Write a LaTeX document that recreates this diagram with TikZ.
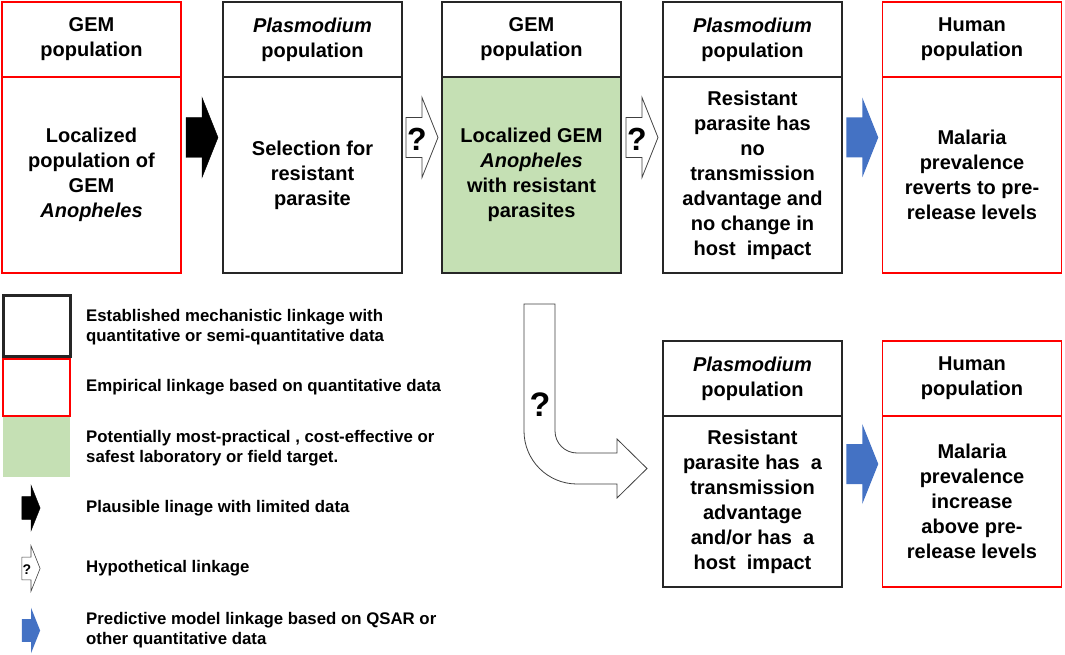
\documentclass[tikz,border=0pt]{standalone}
\usepackage{fontspec}
\setmainfont{Liberation Sans}
\usetikzlibrary{calc}
\definecolor{gemgreen}{HTML}{C5E0B4}
\definecolor{arrblue}{HTML}{4472C4}
\definecolor{boxred}{HTML}{FF0000}
\definecolor{boxblk}{HTML}{262626}
\tikzset{
  barrow/.pic={\path[pic actions] (-16,-20) -- (0,-20) -- (0,-40) -- (16,0) -- (0,40) -- (0,20) -- (-16,20) -- cycle;},
  frame/.style={minimum width=179pt,minimum height=#1,inner sep=0pt,outer sep=0pt},
  boxtext/.style={font=\fontsize{20}{25}\selectfont\bfseries,align=center,text=black},
  hdr/.style={boxtext,minimum width=179pt,minimum height=75pt,inner sep=0pt,outer sep=0pt,anchor=north},
  bod/.style={boxtext,minimum width=179pt,minimum height=#1,inner sep=0pt,outer sep=0pt,anchor=south},
  redline/.style={draw=boxred,line width=1.5pt},
  blkline/.style={draw=boxblk,line width=2pt},
  qarrow/.style={fill=white,draw=black!75,line width=0.8pt},
  qmark/.style={font=\fontsize{32}{32}\selectfont\bfseries,inner sep=0pt},
  legtext/.style={font=\fontsize{16.8}{20}\selectfont\bfseries,align=left,anchor=west,inner sep=0pt},
}
\begin{document}
\begin{tikzpicture}[x=1pt,y=-1pt]
\useasboundingbox (0,0) rectangle (1065,655);
% top row frames
\node[frame=271pt] (b1) at (91.5,137.5) {};
\node[frame=271pt] (b2) at (312.5,137.5) {};
\node[frame=271pt] (b3) at (531.5,137.5) {};
\node[frame=271pt] (b4) at (752.5,137.5) {};
\node[frame=271pt] (b5) at (972,137.5) {};
% bottom row frames
\node[frame=246pt] (b6) at (752.5,464) {};
\node[frame=246pt] (b7) at (972,464) {};
% box 1
\node[hdr,redline] (b1h) at (b1.north) {GEM\\population};
\node[bod=196pt,redline] (b1b) at (b1.south) {Localized\\population of\\GEM\\\textit{Anopheles}};
% box 2
\node[hdr,blkline] (b2h) at (b2.north) {\textit{Plasmodium}\\population};
\node[bod=196pt,blkline] (b2b) at (b2.south) {Selection for\\resistant\\parasite};
% box 3
\node[hdr,blkline] (b3h) at (b3.north) {GEM\\population};
\node[bod=196pt,blkline,fill=gemgreen] (b3b) at (b3.south) {Localized GEM\\\textit{Anopheles}\\with resistant\\parasites};
% box 4
\node[hdr,blkline] (b4h) at (b4.north) {\textit{Plasmodium}\\population};
\node[bod=196pt,blkline] (b4b) at (b4.south) {Resistant\\parasite has\\no\\transmission\\advantage and\\no change in\\host~ impact};
% box 5
\node[hdr,redline] (b5h) at (b5.north) {Human\\population};
\node[bod=196pt,redline] (b5b) at (b5.south) {Malaria\\prevalence\\reverts to pre-\\release levels};
% box 6
\node[hdr,blkline] (b6h) at (b6.north) {\textit{Plasmodium}\\population};
\node[bod=171pt,blkline] (b6b) at (b6.south) {Resistant\\parasite has~ a\\transmission\\advantage\\and/or has~ a\\host~ impact};
% box 7
\node[hdr,redline] (b7h) at (b7.north) {Human\\population};
\node[bod=171pt,redline] (b7b) at (b7.south) {Malaria\\prevalence\\increase\\above pre-\\release levels};
% block arrows between boxes
\pic[fill=black,draw=black] at ($(b1.east)!.5!(b2.west)$) {barrow};
\pic[qarrow] at ($(b2.east)!.5!(b3.west)$) {barrow};
\node[qmark] (q1) at ($(b2.east)!.5!(b3.west)+(-5,2)$) {?};
\pic[qarrow] at ($(b3.east)!.5!(b4.west)$) {barrow};
\node[qmark] (q2) at ($(b3.east)!.5!(b4.west)+(-5,2)$) {?};
\pic[fill=arrblue] at ($(b4.east)!.5!(b5.west)$) {barrow};
\pic[fill=arrblue] at ($(b6.east)!.5!(b7.west)$) {barrow};
% bent hypothetical arrow from box 3 to box 6
\draw[qarrow] (524,304) -- (524,431) .. controls (524,460.3) and (547.7,484) .. (577,484) -- (617,484) -- (617,498) -- (647,468.5) -- (617,439) -- (617,453) -- (577,453) .. controls (564.85,453) and (555,443.15) .. (555,431) -- (555,304) -- cycle;
\node[qmark,font=\fontsize{34}{34}\selectfont\bfseries] (q3) at (540,405) {?};
% legend
\node[draw=boxblk,line width=2.5pt,minimum width=67pt,minimum height=61pt,inner sep=0pt] (l1) at (37,326) {};
\node[redline,minimum width=67pt,minimum height=57pt,inner sep=0pt] (l2) at (36.5,387.5) {};
\node[fill=gemgreen,minimum width=67pt,minimum height=60pt,inner sep=0pt] (l3) at (36.5,447) {};
\coordinate (l4) at (31,508);
\coordinate (l5) at (31,568.5);
\coordinate (l6) at (31,630.5);
\pic[fill=black,draw=black,scale=0.57] at (l4) {barrow};
\pic[qarrow,line width=0.6pt,scale=0.57] at (l5) {barrow};
\node[inner sep=0pt,font=\fontsize{14}{14}\selectfont\bfseries] (q4) at ($(l5)+(-4,1)$) {?};
\pic[fill=arrblue,scale=0.57] at (l6) {barrow};
\node[legtext] (t1) at (86,327) {Established mechanistic linkage with\\quantitative or semi-quantitative data};
\node[legtext] (t2) at (86,387) {Empirical linkage based on quantitative data};
\node[legtext] (t3) at (86,448) {Potentially most-practical , cost-effective or\\safest laboratory or field target.};
\node[legtext] (t4) at (86,508) {Plausible linage with limited data};
\node[legtext] (t5) at (86,568) {Hypothetical linkage};
\node[legtext] (t6) at (86,630) {Predictive model linkage based on QSAR or\\other quantitative data};
\end{tikzpicture}
\end{document}
